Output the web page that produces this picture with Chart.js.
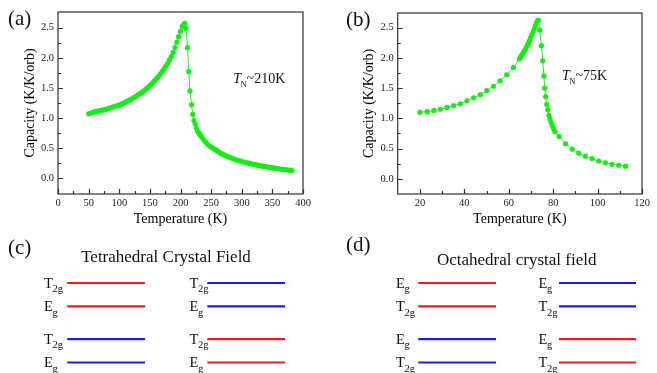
<!DOCTYPE html>
<html><head><meta charset="utf-8">
<script src="https://cdn.jsdelivr.net/npm/chart.js@4.4.1/dist/chart.umd.min.js"></script>
<style>
html,body{margin:0;padding:0;background:#fff;width:657px;height:373px;overflow:hidden;position:relative}
canvas{position:absolute}
</style></head><body>
<canvas id="ca" width="330" height="228" style="left:0;top:0;width:330px;height:228px"></canvas>
<canvas id="cb" width="327" height="228" style="left:330px;top:0;width:327px;height:228px"></canvas>
<canvas id="cc" width="330" height="153" style="left:0;top:220px;width:330px;height:153px"></canvas>
<canvas id="cd" width="327" height="153" style="left:330px;top:220px;width:327px;height:153px"></canvas>
<script>
// ---------------- DATA ----------------
const aTemperature = [50,53,56,59,62,65,68,71,74,77,80,83,86,89,92,95,98,101,104,107,110,113,116,119,122,125,128,131,134,137,140,143,146,149,152,155,158,161,164,167,170,173,176,179,182,185,188,191,194,197,200,203,205.5,207,209,211.5,213.5,215.5,218,220,222,224,226,228,230,232,235,238,241,244,247,250,253,256,259,262,265,268,271,274,277,280,283,286,289,292,295,298,301,304,307,310,313,316,319,322,325,328,331,334,337,340,343,346,349,352,355,358,361,364,367,370,373,376,379,382];
const aCapacity = [1.07,1.08,1.09,1.10,1.11,1.115,1.12,1.13,1.135,1.14,1.15,1.16,1.17,1.18,1.19,1.20,1.21,1.22,1.235,1.25,1.265,1.28,1.295,1.31,1.33,1.345,1.365,1.385,1.405,1.425,1.45,1.475,1.50,1.53,1.56,1.59,1.62,1.655,1.69,1.73,1.77,1.815,1.86,1.91,1.965,2.02,2.09,2.17,2.26,2.35,2.44,2.52,2.56,2.57,2.49,2.17,1.77,1.45,1.22,1.06,0.96,0.90,0.83,0.78,0.75,0.72,0.68,0.64,0.60,0.57,0.54,0.52,0.50,0.48,0.46,0.44,0.42,0.405,0.39,0.375,0.36,0.35,0.34,0.325,0.315,0.305,0.295,0.285,0.277,0.27,0.262,0.255,0.247,0.24,0.233,0.227,0.22,0.214,0.208,0.202,0.197,0.192,0.187,0.182,0.177,0.172,0.167,0.163,0.158,0.154,0.15,0.146,0.142,0.138,0.134,0.13];

const bTemperature = [20,23.3,26.3,29.2,32.2,35.2,38.2,41.2,44.2,47.2,50.1,53.1,56.1,59.1,62.1,64.8,65.3,65.8,66.3,66.8,67.3,67.8,68.3,68.8,69.3,69.8,70.4,71,71.5,72,72.5,73,73.4,73.9,74.7,75.3,75.8,76.2,76.6,77.1,77.6,78.1,78.6,79.1,79.6,80.2,80.8,82.7,85.6,88.6,91.5,94.5,97.5,100.5,103.5,106.5,109.5,112.6];
const bCapacity = [1.10,1.11,1.13,1.15,1.18,1.21,1.24,1.29,1.34,1.39,1.46,1.53,1.62,1.72,1.84,1.98,2.01,2.04,2.07,2.10,2.13,2.16,2.20,2.24,2.28,2.33,2.38,2.43,2.48,2.53,2.58,2.62,2.62,2.46,2.20,1.95,1.70,1.50,1.36,1.23,1.14,1.05,0.99,0.93,0.88,0.83,0.78,0.70,0.58,0.49,0.425,0.375,0.335,0.295,0.265,0.24,0.225,0.21];

const aXTicks = [0,50,100,150,200,250,300,350,400];
const aXTickLabels = ['0','50','100','150','200','250','300','350','400'];
const bXTicks = [20,40,60,80,100,120];
const bXTickLabels = ['20','40','60','80','100','120'];
const yTicks = [0,0.5,1,1.5,2,2.5];
const yTickLabels = ['0.0','0.5','1.0','1.5','2.0','2.5'];

// energy levels (arbitrary units, top to bottom)
const levelEnergy = [3.4, 2.4, 1.0, 0.0];
const cLeftLabels  = ['T2g','Eg','T2g','Eg'];
const cRightLabels = ['T2g','Eg','T2g','Eg'];
const dLeftLabels  = ['Eg','T2g','Eg','T2g'];
const dRightLabels = ['Eg','T2g','Eg','T2g'];
const leftSpin  = ['up','up','dn','dn'];
const rightSpin = ['dn','dn','up','up'];

// ---------------- STYLE ----------------
const SERIF = "'Liberation Serif','Times New Roman',serif";
const GREEN_PT = 'rgb(24,236,24)';
const GREEN_LN = 'rgb(60,225,60)';
const spinColor = {up:'#ec1c1c', dn:'#1c1ce6'};

function mids(arr){ const m=[]; for(let i=0;i<arr.length-1;i++) m.push((arr[i]+arr[i+1])/2); return m; }

function framePlugin(xMaj, yMaj, extras){
  return {
    id:'frame',
    afterDraw(chart){
      const {ctx, chartArea:a, scales:{x,y}} = chart;
      ctx.save();
      ctx.strokeStyle='#333'; ctx.lineWidth=1.2;
      ctx.strokeRect(a.left, a.top, a.right-a.left, a.bottom-a.top);
      ctx.beginPath();
      const xm = mids(xMaj);
      xMaj.forEach(v=>{const p=Math.round(x.getPixelForValue(v))+0.5; ctx.moveTo(p,a.bottom); ctx.lineTo(p,a.bottom-5);});
      xm.forEach(v=>{const p=Math.round(x.getPixelForValue(v))+0.5; ctx.moveTo(p,a.bottom); ctx.lineTo(p,a.bottom-3);});
      yMaj.forEach(v=>{const p=Math.round(y.getPixelForValue(v))+0.5; ctx.moveTo(a.left,p); ctx.lineTo(a.left+5,p);});
      mids(yMaj).forEach(v=>{const p=Math.round(y.getPixelForValue(v))+0.5; ctx.moveTo(a.left,p); ctx.lineTo(a.left+3,p);});
      ctx.stroke();
      // panel letter
      ctx.fillStyle='#111';
      ctx.font = '21px '+SERIF; ctx.textBaseline='alphabetic'; ctx.textAlign='left';
      ctx.fillText(extras.panel, extras.panelX, extras.panelY);
      // T_N label
      let tx = x.getPixelForValue(extras.tnX), ty = y.getPixelForValue(extras.tnY);
      ctx.font = 'italic 14px '+SERIF; ctx.fillText('T', tx, ty);
      tx += ctx.measureText('T').width;
      ctx.font = '8.5px '+SERIF; ctx.fillText('N', tx-0.5, ty+3.8);
      tx += ctx.measureText('N').width-0.5;
      ctx.font = '14px '+SERIF; ctx.fillText(extras.tnText, tx, ty);
      ctx.restore();
    }
  };
}

function capChart(id, temps, caps, xMin, xMax, xTicks, xLabels, yMin, yMax, lay, extras){
  const pts = temps.map((t,i)=>({x:t, y:caps[i]}));
  return new Chart(document.getElementById(id), {
    type:'scatter',
    data:{datasets:[{data:pts, showLine:true, borderColor:GREEN_LN, borderWidth:1,
      pointRadius:2.6, pointBackgroundColor:GREEN_PT, pointBorderWidth:0, pointHoverRadius:2.6}]},
    options:{
      responsive:false, animation:false, events:[],
      layout:{padding:{left:0, top:lay.top, right:lay.right, bottom:0}},
      plugins:{legend:{display:false}, tooltip:{enabled:false}},
      scales:{
        x:{type:'linear', min:xMin, max:xMax,
          afterBuildTicks:s=>{s.ticks = xTicks.map(v=>({value:v}));},
          ticks:{autoSkip:false, maxRotation:0, padding:3, color:'#222',
            font:{family:SERIF, size:10.5}, callback:(v,i)=>xLabels[i]},
          grid:{display:false, drawTicks:false}, border:{display:false},
          title:{display:true, text:'Temperature (K)', color:'#000', font:{family:SERIF, size:14}, padding:{top:0,bottom:0}},
          afterFit:s=>{s.height = lay.xh;}
        },
        y:{type:'linear', min:yMin, max:yMax,
          afterBuildTicks:s=>{s.ticks = yTicks.map(v=>({value:v}));},
          ticks:{autoSkip:false, padding:4, color:'#222',
            font:{family:SERIF, size:10.5}, callback:(v,i)=>yTickLabels[i]},
          grid:{display:false, drawTicks:false}, border:{display:false},
          title:{display:true, text:'Capacity (K/K/orb)', color:'#000', font:{family:SERIF, size:14}, padding:{top:lay.ytp,bottom:0}},
          afterFit:s=>{s.width = lay.yw;}
        }
      }
    },
    plugins:[framePlugin(xTicks, yTicks, extras)]
  });
}

capChart('ca', aTemperature, aCapacity, 0, 400, aXTicks, aXTickLabels, -0.26, 2.76,
  {top:12, right:27, xh:34, yw:58, ytp:21.6},
  {panel:'(a)', panelX:8, panelY:24.5, tnX:286, tnY:1.58, tnText:'~210K'});
capChart('cb', bTemperature, bCapacity, 10, 120, bXTicks, bXTickLabels, -0.25, 2.74,
  {top:13, right:15, xh:34, yw:67.7, ytp:30.9},
  {panel:'(b)', panelX:16, panelY:25.6, tnX:84, tnY:1.63, tnText:'~75K'});

// ---------------- level diagrams ----------------
function levelChart(id, W, title, titleX, titleY, panel, panelX, panelY, columns){
  const datasets = [];
  columns.forEach(col=>{
    levelEnergy.forEach((e,i)=>{
      datasets.push({data:[{x:col.x0,y:e},{x:col.x1,y:e}], showLine:true,
        borderColor:spinColor[col.spins[i]], borderWidth:2.2, pointRadius:0, pointHoverRadius:0});
    });
  });
  const labelPlugin = {
    id:'levelLabels',
    afterDraw(chart){
      const {ctx, scales:{x,y}} = chart;
      ctx.save();
      ctx.fillStyle='#111'; ctx.textAlign='left'; ctx.textBaseline='alphabetic';
      ctx.font='21px '+SERIF; ctx.fillText(panel, panelX, panelY);
      ctx.font='17px '+SERIF; ctx.textAlign='center'; ctx.fillText(title, titleX, titleY);
      ctx.textAlign='left';
      columns.forEach(col=>{
        levelEnergy.forEach((e,i)=>{
          const lab = col.labels[i];
          const py = y.getPixelForValue(e);
          let px = x.getPixelForValue(col.lx);
          ctx.font='14.5px '+SERIF;
          ctx.fillText(lab[0], px, py+4.6);
          px += ctx.measureText(lab[0]).width;
          ctx.font='10.5px '+SERIF;
          ctx.fillText(lab.slice(1), px-0.3, py+9.2);
        });
      });
      ctx.restore();
    }
  };
  return new Chart(document.getElementById(id), {
    type:'scatter',
    data:{datasets},
    options:{responsive:false, animation:false, events:[],
      layout:{padding:0},
      plugins:{legend:{display:false}, tooltip:{enabled:false}},
      scales:{x:{type:'linear', min:0, max:W, display:false},
              y:{type:'linear', min:-0.449, max:6.095, display:false}}},
    plugins:[labelPlugin]
  });
}

levelChart('cc', 330, 'Tetrahedral Crystal Field', 166, 41.7, '(c)', 8, 34.3, [
  {labels:cLeftLabels, spins:leftSpin, x0:67.3, x1:145, lx:44},
  {labels:cRightLabels, spins:rightSpin, x0:207.3, x1:285, lx:189.5}
]);
levelChart('cd', 327, 'Octahedral crystal field', 186.7, 45, '(d)', 16, 30.8, [
  {labels:dLeftLabels, spins:leftSpin, x0:88.3, x1:166, lx:66},
  {labels:dRightLabels, spins:rightSpin, x0:229, x1:306, lx:208.5}
]);
</script>
</body></html>
